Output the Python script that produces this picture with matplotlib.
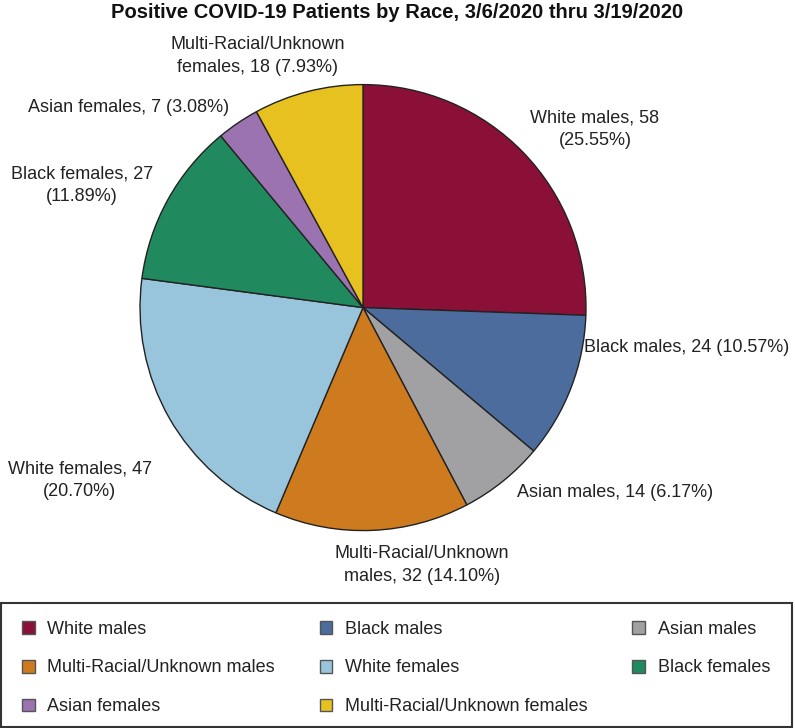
import matplotlib.pyplot as plt
from matplotlib.patches import Patch, Rectangle

plt.rcParams['font.family'] = ['Liberation Sans', 'DejaVu Sans']

groups = ["White males", "Black males", "Asian males", "Multi-Racial/Unknown males",
          "White females", "Black females", "Asian females", "Multi-Racial/Unknown females"]
counts = [58, 24, 14, 32, 47, 27, 7, 18]
colors = ["#8a1038", "#4b6c9c", "#a1a1a4", "#ce7b1f",
          "#99c5dc", "#21895e", "#9a73b0", "#e7c11f"]

# where the label text sits (axes data units, pie radius = 1) and how it wraps
label_pos = [(1.04, 0.80), (0.99, -0.18), (0.69, -0.83), (0.265, -1.155),
             (-1.27, -0.773), (-1.26, 0.549), (-1.053, 0.899), (-0.471, 1.128)]
label_ha = ["center", "left", "left", "center", "center", "center", "center", "center"]
wrap = ["pct", "none", "none", "name", "pct", "pct", "none", "name"]

total = sum(counts)


def make_label(name, n, how):
    pct = f"({100 * n / total:.2f}%)"
    if how == "pct":
        return f"{name}, {n}\n{pct}"
    if how == "name":
        first, rest = name.split(" ", 1)
        return f"{first}\n{rest}, {n} {pct}"
    return f"{name}, {n} {pct}"


W, H = 795, 728
fig = plt.figure(figsize=(W / 100, H / 100), dpi=100)
ax = fig.add_axes([0.1761, 0.2712, 0.561, 0.6126])

ax.pie(counts, colors=colors, startangle=90, counterclock=False, radius=1,
       wedgeprops=dict(edgecolor="#222222", linewidth=1.0))
ax.set_xlim(-1, 1)
ax.set_ylim(-1, 1)
ax.set_aspect("equal")

for i in range(len(groups)):
    x, y = label_pos[i]
    ax.text(x, y, make_label(groups[i], counts[i], wrap[i]), ha=label_ha[i], va="center",
            multialignment="center", fontsize=13, color="#222222", clip_on=False,
            linespacing=1.45)

fig.text(0.5, 0.9835, "Positive COVID-19 Patients by Race, 3/6/2020 thru 3/19/2020",
         ha="center", va="center", fontsize=14.5, fontweight="bold", color="#111111")

# legend box frame
fig.add_artist(Rectangle((1 / W, 1 / H), 791 / W, 124 / H, transform=fig.transFigure,
                         fill=False, edgecolor="#333333", linewidth=1.5))

# legend filled row by row
order = [0, 3, 6, 1, 4, 7, 2, 5]
handles = [Patch(facecolor=colors[i], edgecolor="#555555", linewidth=1.0) for i in order]
names = [groups[i] for i in order]
leg = fig.legend(handles, names, loc="center left", ncol=3, mode="expand",
                 bbox_to_anchor=(22 / W, -2 / H, 748 / W, 124 / H),
                 borderaxespad=0, borderpad=0, fontsize=13, frameon=False,
                 handlelength=0.7, handleheight=0.7, handletextpad=0.7,
                 labelspacing=1.2)
for t in leg.get_texts():
    t.set_color("#222222")

fig.savefig("out.png", dpi=100)
